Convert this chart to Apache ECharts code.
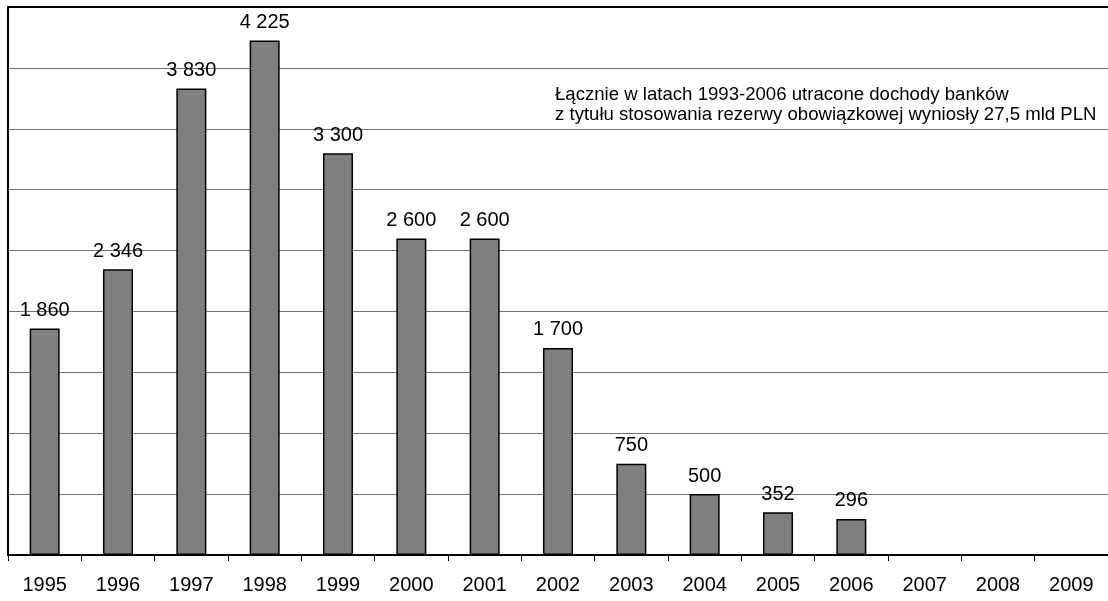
<!DOCTYPE html>
<html>
<head>
<meta charset="utf-8">
<script src="https://cdn.jsdelivr.net/npm/echarts@6/dist/echarts.min.js"></script>
<style>
  html, body { margin: 0; padding: 0; background: #fff; }
  #chart { width: 1108px; height: 601px; }
</style>
</head>
<body>
<div id="chart"></div>
<script>
// lata i utracone dochody (mln PLN)
var years = ['1995', '1996', '1997', '1998', '1999', '2000', '2001', '2002', '2003', '2004', '2005', '2006', '2007', '2008', '2009'];
var values = [1860, 2346, 3830, 4225, 3300, 2600, 2600, 1700, 750, 500, 352, 296, 0, 0, 0];
var noteLines = [
  'Łącznie w latach 1993-2006 utracone dochody banków',
  'z tytułu stosowania rezerwy obowiązkowej wyniosły 27,5 mld PLN'
];

function fmtNum(v) {
  return String(v).replace(/\B(?=(\d{3})+(?!\d))/g, ' ');
}

var myChart = echarts.init(document.getElementById('chart'));
var font = 'Arial, "Liberation Sans", sans-serif';

var option = {
  animation: false,
  backgroundColor: '#fff',
  grid: {
    left: 8,
    right: 0,
    top: 7,
    bottom: 46,
    containLabel: false
  },
  xAxis: [
    {
      type: 'category',
      data: years,
      axisLine: { lineStyle: { color: '#000', width: 2 } },
      axisTick: { show: true, length: 6, lineStyle: { color: '#000', width: 1 } },
      axisLabel: {
        color: '#000',
        fontSize: 20,
        fontFamily: font,
        margin: 20
      }
    },
    {
      // gorna ramka
      type: 'category',
      position: 'top',
      data: years,
      axisLine: { show: true, lineStyle: { color: '#000', width: 2 } },
      axisTick: { show: false },
      axisLabel: { show: false }
    }
  ],
  yAxis: {
    type: 'value',
    min: 0,
    max: 4500,
    interval: 500,
    axisLine: { show: true, lineStyle: { color: '#000', width: 2 } },
    axisTick: { show: false },
    axisLabel: { show: false },
    splitLine: { show: true, lineStyle: { color: '#707070', width: 1 } }
  },
  graphic: [
    {
      type: 'text',
      left: 555,
      top: 85,
      style: {
        text: noteLines.join('\n'),
        fill: '#000',
        font: '18.6px ' + font,
        lineHeight: 20
      }
    }
  ],
  series: [
    {
      name: 'dochody',
      type: 'bar',
      data: values,
      barWidth: 30,
      itemStyle: {
        color: '#808080',
        borderColor: '#000',
        borderWidth: 1.5
      },
      label: {
        show: true,
        position: 'top',
        distance: 8,
        color: '#000',
        fontSize: 20,
        fontFamily: font,
        formatter: function (p) {
          return p.value > 0 ? fmtNum(p.value) : '';
        }
      }
    }
  ]
};
myChart.setOption(option);
</script>
</body>
</html>
